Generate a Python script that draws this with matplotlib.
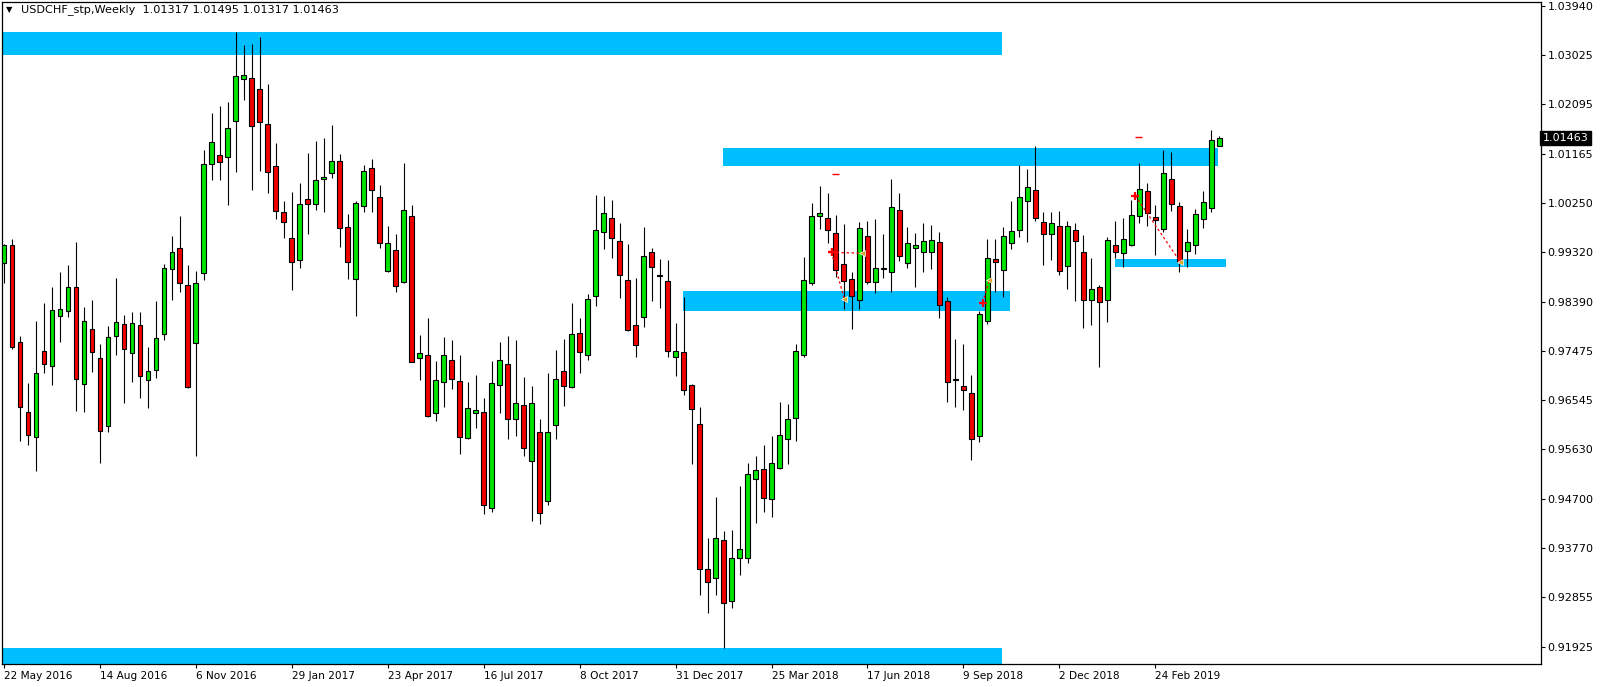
import numpy as np
import pandas as pd
import matplotlib
matplotlib.use("Agg")
import matplotlib.pyplot as plt
from matplotlib.patches import Rectangle
from matplotlib.transforms import blended_transform_factory

# USDCHF weekly candles, first bar = week of 22 May 2016
opens = [
    0.99113, 0.99451, 0.97635, 0.96323, 0.95853, 0.97470, 0.97190, 0.98131, 0.98221, 0.98675,
    0.96843, 0.97883, 0.97338, 0.96059, 0.97751, 0.97982, 0.97429, 0.97957, 0.96926, 0.97107,
    0.97784, 0.99014, 0.99410, 0.98716, 0.97619, 0.98939, 1.00986, 1.01142, 1.01101, 1.01786,
    1.02570, 1.02595, 1.02389, 1.01728, 1.00936, 1.00086, 0.99583, 0.99179, 1.00317, 1.00227,
    1.00689, 1.00812, 1.01035, 0.99797, 0.98824, 1.00185, 1.00903, 1.00359, 0.98972, 0.99360,
    0.98766, 1.00004, 0.97347, 0.97404, 0.96299, 0.96885, 0.97305, 0.96909, 0.95837, 0.96299,
    0.96323, 0.94516, 0.96827, 0.97231, 0.96191, 0.96455, 0.95407, 0.95944, 0.94648, 0.96084,
    0.97091, 0.96786, 0.97809, 0.97404, 0.98510, 0.99698, 0.99963, 0.99533, 0.98807, 0.97966,
    0.98114, 0.99319, 0.98890, 0.98791, 0.97363, 0.97454, 0.96827, 0.96101, 0.93378, 0.93221,
    0.93930, 0.92783, 0.93592, 0.93592, 0.95061, 0.95251, 0.94689, 0.95267, 0.95820, 0.96216,
    0.97388, 0.98750, 0.99996, 0.99963, 0.99682, 0.99096, 0.98815, 0.98428, 0.99624, 0.98766,
    0.99022, 0.98956, 1.00111, 0.99129, 0.99410, 0.99335, 0.99335, 0.99509, 0.98403, 0.96942,
    0.96819, 0.96686, 0.95870, 0.98032, 0.99187, 0.98997, 0.99500, 0.99731, 1.00293, 1.00491,
    0.99897, 0.99674, 0.99814, 0.99071, 0.99740, 0.99327, 0.98428, 0.98675, 0.98428, 0.99467,
    0.99302, 0.99467, 0.99996, 1.00474, 0.99979, 0.99756, 1.00697, 1.00194, 0.99352, 0.99467,
    0.99946, 1.00144, 1.01317,
]
highs = [
    0.99484, 0.99566, 0.97751, 0.96868, 0.98040, 0.98378, 0.98667, 0.98948, 0.99080, 0.99509,
    0.98304, 0.98436, 0.97602, 0.97932, 0.98848, 0.98155, 0.98197, 0.98197, 0.97553, 0.98403,
    0.99096, 0.99624, 1.00004, 0.99080, 0.98972, 1.01242, 1.01926, 1.02058, 1.02149, 1.03445,
    1.03206, 1.03230, 1.03354, 1.02479, 1.01374, 1.00284, 1.00449, 1.00623, 1.01192, 1.01415,
    1.01464, 1.01704, 1.01167, 1.00037, 1.00293, 1.00961, 1.01068, 1.00581, 0.99814, 0.99665,
    1.01002, 1.00210, 0.97776, 0.98081, 0.97289, 0.97726, 0.97668, 0.97404, 0.96893, 0.97025,
    0.96596, 0.97281, 0.97644, 0.97743, 0.97668, 0.96992, 0.96819, 0.96200, 0.97066, 0.97495,
    0.97702, 0.98378, 0.98081, 0.98543, 1.00400, 1.00375, 1.00301, 0.99872, 0.99476, 0.98832,
    0.99797, 0.99401, 0.99195, 0.99170, 0.97990, 0.98477, 0.96852, 0.96414, 0.93955, 0.94731,
    0.94087, 0.94104, 0.94945, 0.95374, 0.95506, 0.95704, 0.95870, 0.96521, 0.96480, 0.97611,
    0.99236, 1.00243, 1.00565, 1.00441, 1.00029, 0.99847, 0.98956, 0.99888, 0.99905, 0.99954,
    0.99674, 1.00705, 1.00441, 0.99797, 0.99682, 0.99872, 0.99830, 0.99698, 0.98477, 0.97693,
    0.97611, 0.97025, 0.98213, 0.99566, 0.99575, 0.99797, 1.00284, 1.00961, 1.00878, 1.01308,
    1.00086, 1.00078, 1.00095, 0.99905, 0.99872, 0.99641, 0.99212, 0.98700, 0.99608, 0.99905,
    0.99963, 1.00301, 1.01002, 1.00623, 1.00210, 1.01242, 1.01209, 1.00268, 0.99765, 1.00136,
    1.00474, 1.01613, 1.01495,
]
lows = [
    0.98741, 0.97512, 0.95787, 0.95713, 0.95218, 0.97066, 0.96835, 0.97635, 0.98106, 0.96348,
    0.96332, 0.97083, 0.95374, 0.95944, 0.97388, 0.96488, 0.96893, 0.96596, 0.96398, 0.96959,
    0.97685, 0.98419, 0.98576, 0.96770, 0.95498, 0.98807, 1.00672, 1.00672, 1.00202, 1.00829,
    1.02174, 1.00499, 1.00846, 1.00425, 0.99954, 0.99591, 0.98617, 0.99030, 0.99674, 1.00119,
    1.00086, 1.00722, 0.99426, 0.98824, 0.98122, 1.00070, 1.00086, 0.99401, 0.98948, 0.98576,
    0.98750, 0.97256, 0.96918, 0.96233, 0.96150, 0.96414, 0.96753, 0.95531, 0.95820, 0.96035,
    0.94409, 0.94450, 0.96315, 0.95828, 0.95878, 0.95506, 0.94285, 0.94219, 0.94582, 0.95812,
    0.96431, 0.96769, 0.97050, 0.97297, 0.98312, 0.99385, 0.99220, 0.98469, 0.97842, 0.97355,
    0.97916, 0.98411, 0.98279, 0.97355, 0.97000, 0.96653, 0.95358, 0.92891, 0.92561, 0.92891,
    0.91892, 0.92643, 0.93270, 0.93485, 0.94244, 0.94458, 0.94351, 0.95251, 0.95358, 0.95787,
    0.97363, 0.98708, 0.99765, 0.99500, 0.98865, 0.98254, 0.97883, 0.98254, 0.98733, 0.98560,
    0.98840, 0.98576, 0.99154, 0.99022, 0.98667, 0.98956, 0.99014, 0.98089, 0.96521, 0.96414,
    0.96356, 0.95432, 0.95754, 0.97974, 0.98576, 0.98485, 0.99385, 0.99616, 0.99517, 0.99913,
    0.99088, 0.99179, 0.98890, 0.98634, 0.98411, 0.97900, 0.97957, 0.97173, 0.98007, 0.99212,
    0.99047, 0.99443, 0.99880, 0.99822, 0.99278, 0.99707, 1.00103, 0.98956, 0.99047, 0.99294,
    0.99781, 1.00086, 1.01317,
]
closes = [
    0.99467, 0.97545, 0.96414, 0.95903, 0.97058, 0.97231, 0.98238, 0.98263, 0.98675, 0.96942,
    0.98032, 0.97454, 0.95977, 0.97734, 0.98015, 0.97503, 0.97999, 0.97008, 0.97091, 0.97718,
    0.99022, 0.99335, 0.98741, 0.96786, 0.98750, 1.00969, 1.01390, 1.01010, 1.01654, 1.02628,
    1.02653, 1.01687, 1.01761, 1.00837, 1.00103, 0.99897, 0.99146, 1.00227, 1.00235, 1.00680,
    1.00738, 1.01035, 0.99781, 0.99146, 1.00243, 1.00846, 1.00499, 0.99500, 0.99492, 0.98692,
    1.00111, 0.97272, 0.97437, 0.96249, 0.96926, 0.97404, 0.96951, 0.95853, 0.96398, 0.96365,
    0.94590, 0.96868, 0.97305, 0.96191, 0.96497, 0.95647, 0.96497, 0.94425, 0.95960, 0.96942,
    0.96819, 0.97792, 0.97454, 0.98452, 0.99731, 1.00053, 0.99583, 0.98890, 0.97866, 0.97578,
    0.99261, 0.99055, 0.98873, 0.97479, 0.97470, 0.96744, 0.96373, 0.93386, 0.93146, 0.93963,
    0.92750, 0.93592, 0.93765, 0.95160, 0.95234, 0.94722, 0.95366, 0.95903, 0.96191, 0.97479,
    0.98799, 1.00004, 1.00053, 0.99748, 0.98981, 0.98791, 0.98502, 0.99773, 0.98766, 0.99022,
    0.99014, 1.00169, 0.99261, 0.99492, 0.99459, 0.99533, 0.99550, 0.98337, 0.96885, 0.96926,
    0.96736, 0.95812, 0.98172, 0.99220, 0.99146, 0.99624, 0.99715, 1.00359, 1.00540, 0.99963,
    0.99674, 0.99864, 0.98972, 0.99814, 0.99525, 0.98428, 0.98642, 0.98395, 0.99550, 0.99335,
    0.99566, 1.00020, 1.00507, 1.00053, 0.99921, 1.00812, 1.00227, 0.99137, 0.99509, 1.00037,
    1.00268, 1.01431, 1.01463,
]

first_week = "2016-05-22"
date_labels = ["22 May 2016", "14 Aug 2016", "6 Nov 2016", "29 Jan 2017", "23 Apr 2017",
               "16 Jul 2017", "8 Oct 2017", "31 Dec 2017", "25 Mar 2018", "17 Jun 2018",
               "9 Sep 2018", "2 Dec 2018", "24 Feb 2019"]
price_ticks = [1.03940, 1.03025, 1.02095, 1.01165, 1.00250, 0.99320, 0.98390,
               0.97475, 0.96545, 0.95630, 0.94700, 0.93770, 0.92855, 0.91925]
price_labels = ["1.03940", "1.03025", "1.02095", "1.01165", "1.00250", "0.99320", "0.98390",
                "0.97475", "0.96545", "0.95630", "0.94700", "0.93770", "0.92855", "0.91925"]

# supply / demand zones: (first bar, last bar, low, high)
zone_start = [-1.0, -1.0, 89.9, 84.9, 138.9]
zone_end = [124.8, 124.8, 151.9, 125.8, 152.9]
zone_low = [1.03032, 0.91500, 1.00944, 0.98230, 0.99047]
zone_high = [1.03445, 0.91892, 1.01283, 0.98593, 0.99195]

# trade history marks: open bar/price -> close bar/price
trade_open_x = [103.5, 103.5, 122.4, 141.5]
trade_open_y = [0.99320, 0.99320, 0.98376, 1.00383]
trade_close_x = [107.3, 105.1, 123.25, 147.1]
trade_close_y = [0.99305, 0.98440, 0.98802, 0.99145]
# short red level marks
mark_x0 = [103.5, 141.5]
mark_x1 = [104.4, 142.3]
mark_y = [1.00790, 1.01490]

header = "USDCHF_stp,Weekly  1.01317 1.01495 1.01317 1.01463"
last_price = "1.01463"

# ----------------------------------------------------------------------
o = np.array(opens)
h = np.array(highs)
l = np.array(lows)
c = np.array(closes)
x = np.arange(len(o))
weeks = pd.date_range(first_week, periods=len(o), freq="W-SUN")

W, H = 1604, 687
fig = plt.figure(figsize=(W / 100, H / 100), dpi=100)
ax = fig.add_axes([2 / W, 1 - 664 / H, (1540.7 - 2) / W, (664 - 2) / H])

sky = "#00BFFF"
bull = "#00E400"
bear = "#F00000"

for x0, x1, lo, hi in zip(zone_start, zone_end, zone_low, zone_high):
    ax.add_patch(Rectangle((x0, lo), x1 - x0, hi - lo, facecolor=sky,
                           edgecolor="none", zorder=0.5))

ax.vlines(x, l, h, color="black", linewidth=0.8, zorder=2)
up = c >= o
ax.bar(x, c - o, bottom=o, width=0.6, color=np.where(up, bull, bear),
       edgecolor="black", linewidth=0.8, zorder=3)

# trade lines
for xo, yo, xc, yc in zip(trade_open_x, trade_open_y, trade_close_x, trade_close_y):
    ax.plot([xo, xc], [yo, yc], color="red", linestyle=(0, (2, 2)), linewidth=0.9, zorder=4)
    ax.plot(xo, yo, marker="+", color="red", markersize=6, mew=1.6, zorder=5)
    ax.plot(xc, yc, marker="<", color="#DAA520", markersize=4.5, mec="white",
            mew=0.5, zorder=5)
ax.hlines(mark_y, mark_x0, mark_x1, color="red", linewidth=1.0, zorder=4)

ax.set_xlim(-0.25, 192.2)
ax.set_ylim(0.91599, 1.04017)

# axes look (MT4 style)
for s in ax.spines.values():
    s.set_color("black")
    s.set_linewidth(0.9)

ax.set_yticks(price_ticks)
ax.set_yticklabels(price_labels)
ax.tick_params(axis="y", left=False, right=True, labelleft=False, labelright=True,
               length=3, width=0.8, labelsize=8, pad=2, direction="out")

tick_pos = [x[weeks == pd.Timestamp(pd.to_datetime(d, format="%d %b %Y"))][0]
            for d in date_labels]
ax.set_xticks(tick_pos)
ax.set_xticklabels(date_labels, ha="left")
ax.tick_params(axis="x", length=3, width=0.8, labelsize=7.6, pad=2, direction="out")

# header and current price box
fig.text(6 / W, 1 - 10 / H, "\u25bc", fontsize=6, va="center", ha="left")
fig.text(21 / W, 1 - 10 / H, header, fontsize=8.1, va="center", ha="left")
trans = blended_transform_factory(ax.transAxes, ax.transData)
ax.text(1.0012, c[-1], last_price, transform=trans, color="white", fontsize=8,
        va="center", ha="left", clip_on=False,
        bbox=dict(boxstyle="square,pad=0.2", facecolor="black", edgecolor="black"))

fig.savefig("out.png", dpi=100)
